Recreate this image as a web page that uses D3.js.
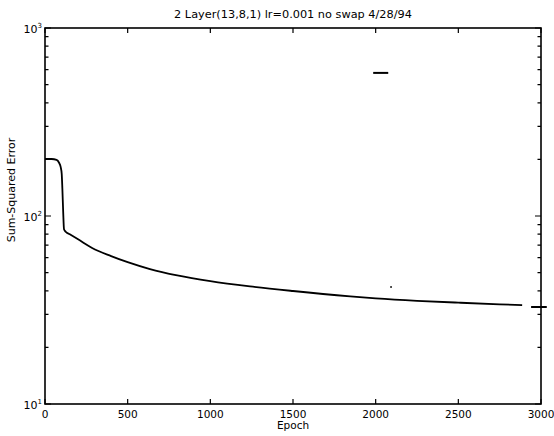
<!DOCTYPE html>
<html>
<head>
<meta charset="utf-8">
<script src="https://cdn.jsdelivr.net/npm/d3@7/dist/d3.min.js"></script>
<style>
  body { margin: 0; background: #fff; }
  svg text { font-family: "DejaVu Sans", sans-serif; fill: #000; }
</style>
</head>
<body>
<script>
var width = 554;
var height = 436;
var margin = {top: 28, right: 13, bottom: 32, left: 45};

// データ
var epochs = [0, 40, 70, 85, 95, 101, 105, 110, 115, 125, 150, 200, 285, 400, 500, 635, 800, 1000, 1240, 1500, 1846, 2000, 2250, 2500, 2750, 2886];
var sse    = [201, 201, 199, 192, 182, 168, 140, 105, 85, 82.5, 80, 75.2, 67.6, 61.2, 56.8, 52.2, 48.3, 45, 42.2, 39.9, 37.4, 36.5, 35.4, 34.6, 33.9, 33.6];
var xTicks = [0, 500, 1000, 1500, 2000, 2500, 3000];
var yDecades = [10, 100, 1000];
var yExps = ["1", "2", "3"];
// スキャンのゴミ
var specks = [[1985, 2076, 577], [2940, 3035, 32.8]];
var dots = [[2093, 41.9]];

var titleText = "2 Layer(13,8,1) lr=0.001 no swap 4/28/94";

var svg = d3.select("body").append("svg")
    .attr("width", width)
    .attr("height", height);

var x = d3.scaleLinear().domain([0, 3000]).range([margin.left, width - margin.right]);
var y = d3.scaleLog().domain([10, 1000]).range([height - margin.bottom, margin.top]);

// 小目盛り
var minor = [];
yDecades.slice(0, 2).forEach(function (d) {
    for (var k = 2; k <= 9; k++) minor.push(d * k);
});

var axes = svg.append("g");
axes.append("rect")
    .attr("x", x(0)).attr("y", y(1000))
    .attr("width", x(3000) - x(0)).attr("height", y(10) - y(1000))
    .attr("fill", "none").attr("stroke", "#000").attr("stroke-width", 1.6);

// x目盛り（上下、内向き）
axes.selectAll(".xt").data(xTicks).enter().append("path")
    .attr("d", function (d) {
        return "M" + x(d) + "," + y(10) + "v-5M" + x(d) + "," + y(1000) + "v5";
    })
    .attr("stroke", "#000").attr("stroke-width", 1.2);

axes.selectAll(".xl").data(xTicks).enter().append("text")
    .attr("x", function (d) { return x(d); })
    .attr("y", y(10) + 14)
    .attr("text-anchor", "middle")
    .attr("font-size", 10.5)
    .text(function (d) { return d; });

// y目盛り
axes.selectAll(".yt").data(yDecades.concat(minor)).enter().append("path")
    .attr("d", function (d) {
        var len = yDecades.indexOf(d) >= 0 ? 6 : 3.5;
        return "M" + x(0) + "," + y(d) + "h" + len + "M" + x(3000) + "," + y(d) + "h-" + len;
    })
    .attr("stroke", "#000").attr("stroke-width", 1.2);

var yl = axes.selectAll(".yl").data(yDecades).enter().append("text")
    .attr("x", x(0) - 3)
    .attr("y", function (d) { return y(d) + 5; })
    .attr("text-anchor", "end")
    .attr("font-size", 11);
yl.append("tspan").text("10");
yl.append("tspan").attr("dy", -5).attr("font-size", 7)
    .text(function (d, i) { return yExps[i]; });

// 曲線
var line = d3.line()
    .x(function (d, i) { return x(epochs[i]); })
    .y(function (d) { return y(d); })
    .curve(d3.curveMonotoneX);

svg.append("path")
    .datum(sse)
    .attr("d", line)
    .attr("fill", "none")
    .attr("stroke", "#000")
    .attr("stroke-width", 1.8);

svg.selectAll(".sp").data(specks).enter().append("line")
    .attr("x1", function (d) { return x(d[0]); })
    .attr("x2", function (d) { return x(d[1]); })
    .attr("y1", function (d) { return y(d[2]); })
    .attr("y2", function (d) { return y(d[2]); })
    .attr("stroke", "#000").attr("stroke-width", 2);

svg.selectAll(".dt").data(dots).enter().append("circle")
    .attr("cx", function (d) { return x(d[0]); })
    .attr("cy", function (d) { return y(d[1]); })
    .attr("r", 0.9).attr("fill", "#000");

// ラベル
svg.append("text")
    .attr("x", (x(0) + x(3000)) / 2)
    .attr("y", 18)
    .attr("text-anchor", "middle")
    .attr("font-size", 11.3)
    .text(titleText);

svg.append("text")
    .attr("x", (x(0) + x(3000)) / 2)
    .attr("y", 429)
    .attr("text-anchor", "middle")
    .attr("font-size", 10.5)
    .text("Epoch");

svg.append("text")
    .attr("transform", "translate(15,190) rotate(-90)")
    .attr("text-anchor", "middle")
    .attr("font-size", 11)
    .text("Sum-Squared Error");
</script>
</body>
</html>
